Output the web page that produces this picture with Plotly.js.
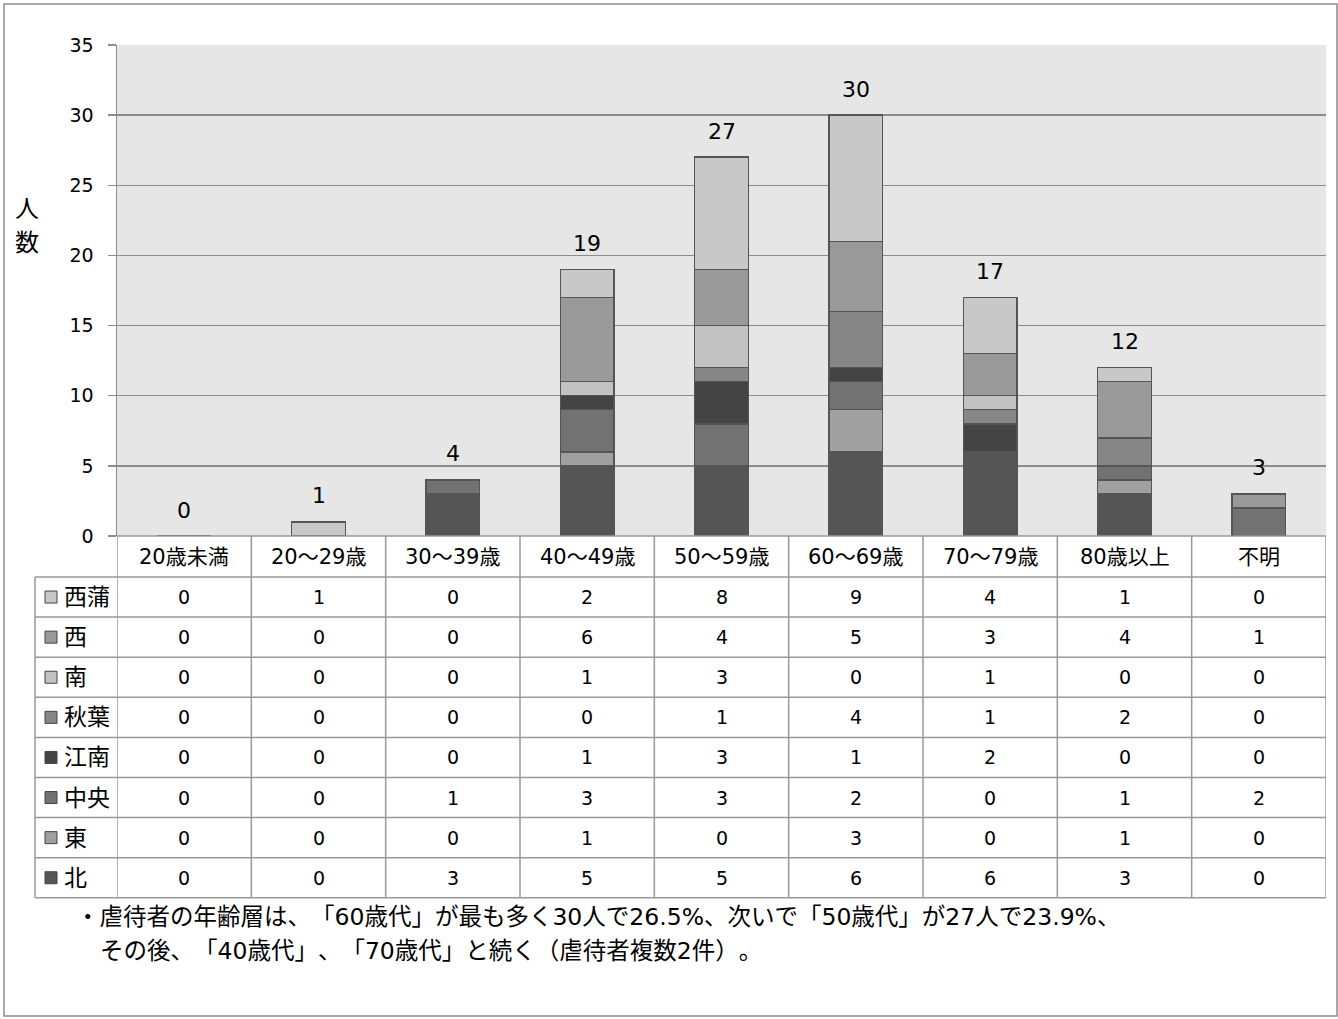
<!DOCTYPE html>
<html><head><meta charset="utf-8">
<script src="https://cdn.plot.ly/plotly-3.0.1.min.js"></script>
<style>body{margin:0;background:#fff}#chart{width:1338px;height:1019px}
svg text{text-spacing-trim:space-all;font-kerning:none;}</style>
</head><body><div id="chart"></div>
<script>
const categories = ['20歳未満','20～29歳','30～39歳','40～49歳','50～59歳','60～69歳','70～79歳','80歳以上','不明'];
// stacking order bottom -> top
const seriesNames = ['北','東','中央','江南','秋葉','南','西','西蒲'];
const kita    = [0,0,3,5,5,6,6,3,0];
const higashi = [0,0,0,1,0,3,0,1,0];
const chuo    = [0,0,1,3,3,2,0,1,2];
const konan   = [0,0,0,1,3,1,2,0,0];
const akiha   = [0,0,0,0,1,4,1,2,0];
const minami  = [0,0,0,1,3,0,1,0,0];
const nishi   = [0,0,0,6,4,5,3,4,1];
const nishikan= [0,1,0,2,8,9,4,1,0];
const seriesValues = [kita,higashi,chuo,konan,akiha,minami,nishi,nishikan];
const seriesColors = ['#555555','#a0a0a0','#727272','#444444','#868686','#c2c2c2','#9a9a9a','#c8c8c8'];
const yTicks = [0,5,10,15,20,25,30,35];
const noteLines = ['・虐待者の年齢層は、「60歳代」が最も多く30人で26.5%、次いで「50歳代」が27人で23.9%、',
                   'その後、「40歳代」、「70歳代」と続く（虐待者複数2件）。'];

const FONT = '"DejaVu Sans", "Noto Sans CJK JP", sans-serif';
const W = 1338, H = 1019;
const L = 117, R = 1326, T = 45, B = 536;
const PH = B - T;
const py = p => (B - p) / PH;        // pixel y -> paper y
const px = p => (p - L) / (R - L);   // pixel x -> paper x

const traces = seriesNames.map((n, i) => ({
  type: 'bar', name: n, x: categories, y: seriesValues[i],
  marker: {color: seriesColors[i], line: {color: '#555555', width: 1.5}},
  width: 0.4, hoverinfo: 'x+y+name'
}));

const totals = categories.map((c, j) => seriesValues.reduce((s, a) => s + a[j], 0));

const annotations = [];
const shapes = [];

// totals above bars
categories.forEach((c, j) => {
  annotations.push({x: c, y: totals[j], xref: 'x', yref: 'y', text: String(totals[j]),
    showarrow: false, xanchor: 'center', yanchor: 'middle', yshift: 26, font: {family: FONT, size: 22, color: '#000'}});
});

// table geometry
const headerTop = 536, headerBot = 577, rowH = 40.1;
const nRows = seriesNames.length;
const tableBot = headerBot + rowH * nRows;
const lineCol = '#999999';

// header labels
categories.forEach((c, j) => {
  annotations.push({x: c, y: py((headerTop + headerBot) / 2), xref: 'x', yref: 'paper', text: c,
    showarrow: false, xanchor: 'center', yanchor: 'middle', font: {family: FONT, size: 21, color: '#000'}});
});

// rows: top = 西蒲 ... bottom = 北
for (let r = 0; r < nRows; r++) {
  const si = nRows - 1 - r;
  const yc = headerBot + rowH * r + rowH / 2;
  categories.forEach((c, j) => {
    annotations.push({x: c, y: py(yc), xref: 'x', yref: 'paper', text: String(seriesValues[si][j]),
      showarrow: false, xanchor: 'center', yanchor: 'middle', font: {family: FONT, size: 19, color: '#000'}});
  });
  // legend key
  shapes.push({type: 'rect', xref: 'paper', yref: 'paper', x0: px(45), x1: px(57), y0: py(yc - 6), y1: py(yc + 6),
    fillcolor: seriesColors[si], line: {color: '#444', width: 1}});
  annotations.push({x: px(62), y: py(yc), xref: 'paper', yref: 'paper', xanchor: 'left', yanchor: 'middle', text: seriesNames[si],
    showarrow: false, font: {family: FONT, size: 23, color: '#000'}});
}

// horizontal table lines
shapes.push({type: 'line', xref: 'paper', yref: 'paper', x0: 0, x1: 1, y0: py(headerTop), y1: py(headerTop), line: {color: lineCol, width: 1.5}});
for (let r = 0; r <= nRows; r++) {
  const yy = headerBot + rowH * r;
  shapes.push({type: 'line', xref: 'paper', yref: 'paper', x0: px(35), x1: 1, y0: py(yy), y1: py(yy), line: {color: lineCol, width: 1.5}});
}
// vertical table lines
for (let k = 0; k <= categories.length; k++) {
  shapes.push({type: 'line', xref: 'x', yref: 'paper', x0: k - 0.5, x1: k - 0.5, y0: py(headerTop), y1: py(tableBot), line: {color: lineCol, width: 1.5}});
}
shapes.push({type: 'line', xref: 'paper', yref: 'paper', x0: px(35), x1: px(35), y0: py(headerBot), y1: py(tableBot), line: {color: lineCol, width: 1.5}});

// outer frame
shapes.push({type: 'rect', xref: 'paper', yref: 'paper', x0: px(4), x1: px(1337), y0: py(4), y1: py(1016), line: {color: '#8c8c8c', width: 1.5}, fillcolor: 'rgba(0,0,0,0)', layer: 'below'});

// y title
annotations.push({x: px(27), y: py(209), xref: 'paper', yref: 'paper', xanchor: 'center', yanchor: 'middle', text: '人', showarrow: false,
  font: {family: FONT, size: 24, color: '#000'}});
annotations.push({x: px(27), y: py(243), xref: 'paper', yref: 'paper', xanchor: 'center', yanchor: 'middle', text: '数', showarrow: false,
  font: {family: FONT, size: 24, color: '#000'}});

// note
annotations.push({x: px(74), y: py(917), xref: 'paper', yref: 'paper', xanchor: 'left', yanchor: 'middle', text: noteLines[0], showarrow: false,
  font: {family: FONT, size: 23.5, color: '#000'}});
annotations.push({x: px(98), y: py(951), xref: 'paper', yref: 'paper', xanchor: 'left', yanchor: 'middle', text: noteLines[1], showarrow: false,
  font: {family: FONT, size: 23.5, color: '#000'}});

const layout = {
  width: W, height: H,
  margin: {l: L, r: W - R, t: T, b: H - B, pad: 0},
  paper_bgcolor: '#ffffff', plot_bgcolor: '#e6e6e6',
  barmode: 'stack', bargap: 0.6, showlegend: false,
  font: {family: FONT, color: '#000'},
  xaxis: {type: 'category', showticklabels: false, ticks: '', showgrid: false, zeroline: false,
          showline: false, range: [-0.5, categories.length - 0.5], fixedrange: true},
  yaxis: {range: [0, 35], tickvals: yTicks, ticktext: yTicks.map(String), ticks: 'outside', ticklen: 8,
          ticklabelstandoff: 10,
          tickcolor: '#8c8c8c', tickwidth: 1.5, showline: true, linecolor: '#8c8c8c', linewidth: 1.5,
          gridcolor: '#8c8c8c', gridwidth: 1.5, zeroline: false, tickfont: {family: FONT, size: 19, color: '#000'},
          fixedrange: true},
  shapes: shapes, annotations: annotations
};

Plotly.newPlot('chart', traces, layout, {displayModeBar: false, staticPlot: true});
</script></body></html>
